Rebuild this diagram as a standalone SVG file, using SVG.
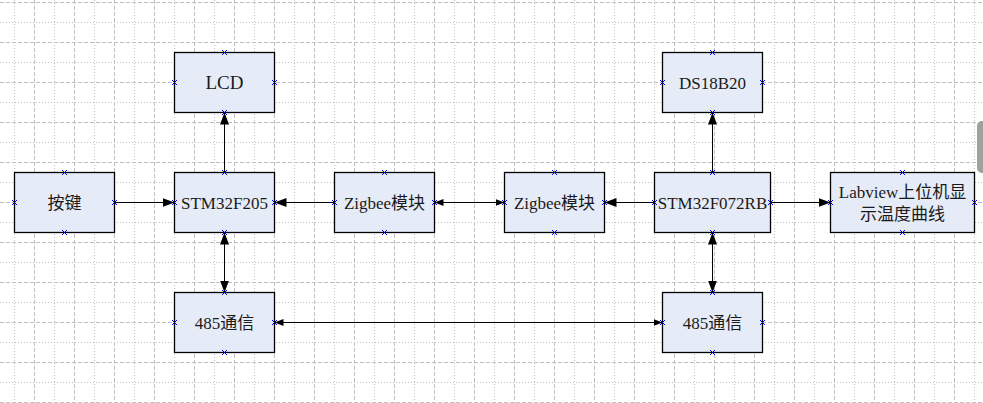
<svg xmlns="http://www.w3.org/2000/svg" xmlns:xlink="http://www.w3.org/1999/xlink" width="983" height="403" viewBox="0 0 983 403">
<style>
.gd{stroke:#c0c0c0;stroke-width:1;stroke-dasharray:4 2;fill:none}
.gt{stroke:#c0c0c0;stroke-width:1;stroke-dasharray:1 2;fill:none}
.box{fill:#e6ecf7;stroke:#000;stroke-width:1.3}
.t{font-family:"Liberation Serif",serif;font-size:17px;fill:#1a1a1a;text-anchor:middle}
.cj{font-family:"Noto Sans CJK SC",sans-serif}
.c{stroke:#000;stroke-width:1;fill:none}
.big{marker-end:url(#ab)}
.big2{marker-start:url(#ab);marker-end:url(#ab)}
.sm2{marker-start:url(#as);marker-end:url(#as)}
.xm{stroke:#0000ff;stroke-width:1;fill:none}
</style>
<defs>
<marker id="ab" markerUnits="userSpaceOnUse" markerWidth="13" markerHeight="10" refX="12" refY="4.5" orient="auto-start-reverse"><path d="M0,0 L12,4.5 L0,9 z" fill="#000"/></marker>
<marker id="as" markerUnits="userSpaceOnUse" markerWidth="10" markerHeight="8" refX="9" refY="3.5" orient="auto-start-reverse"><path d="M0,0 L9,3.5 L0,7 z" fill="#000"/></marker>
<path id="x" class="xm" d="M-2.5,-2.5 L2.5,2.5 M-2.5,2.5 L2.5,-2.5"/>
</defs>
<rect width="983" height="403" fill="#fff"/>
<g id="grid">
<path class="gt" d="M14.5,0V403 M54.5,0V403 M94.5,0V403 M134.5,0V403 M174.5,0V403 M214.5,0V403 M254.5,0V403 M294.5,0V403 M334.5,0V403 M374.5,0V403 M414.5,0V403 M454.5,0V403 M494.5,0V403 M534.5,0V403 M574.5,0V403 M614.5,0V403 M654.5,0V403 M694.5,0V403 M734.5,0V403 M774.5,0V403 M814.5,0V403 M854.5,0V403 M894.5,0V403 M934.5,0V403 M974.5,0V403"/>
<path class="gd" d="M34.5,0V403 M74.5,0V403 M114.5,0V403 M154.5,0V403 M194.5,0V403 M234.5,0V403 M274.5,0V403 M314.5,0V403 M354.5,0V403 M394.5,0V403 M434.5,0V403 M474.5,0V403 M514.5,0V403 M554.5,0V403 M594.5,0V403 M634.5,0V403 M674.5,0V403 M714.5,0V403 M754.5,0V403 M794.5,0V403 M834.5,0V403 M874.5,0V403 M914.5,0V403 M954.5,0V403"/>
<path class="gd" d="M0,2.5H983 M0,42.5H983 M0,82.5H983 M0,122.5H983 M0,162.5H983 M0,202.5H983 M0,242.5H983 M0,282.5H983 M0,322.5H983 M0,362.5H983 M0,402.5H983"/>
<path class="gt" d="M0,22.5H983 M0,62.5H983 M0,102.5H983 M0,142.5H983 M0,182.5H983 M0,222.5H983 M0,262.5H983 M0,302.5H983 M0,342.5H983 M0,382.5H983"/>
</g>
<rect x="977" y="121" width="12" height="52" rx="5" fill="#a0a0a0"/>
<g id="connectors">
<path class="c big" d="M114.5,202.5H174.5"/>
<path class="c big" d="M224.5,172.5V112.5"/>
<path class="c big2" d="M224.5,232.5V292.5"/>
<path class="c big" d="M334.5,202.5H274.5"/>
<path class="c sm2" d="M434.5,202.5H504.5"/>
<path class="c big" d="M654.5,202.5H604.5"/>
<path class="c big" d="M770.5,202.5H830.5"/>
<path class="c big" d="M712.5,172.5V112.5"/>
<path class="c big2" d="M712.5,232.5V292.5"/>
<path class="c sm2" d="M274.5,322.5H662.5"/>
</g>
<g id="lcd">
<rect class="box" x="174.5" y="52.5" width="100" height="60"/>
<text class="t" x="224.5" y="88.5" style="font-size:19px">LCD</text>
<use xlink:href="#x" x="224.5" y="52.5"/><use xlink:href="#x" x="174.5" y="82.5"/><use xlink:href="#x" x="274.5" y="82.5"/><use xlink:href="#x" x="224.5" y="112.5"/>
</g>
<g id="anjian">
<rect class="box" x="14.5" y="172.5" width="100" height="60"/>
<text class="t cj" x="64.5" y="208.5">按键</text>
<use xlink:href="#x" x="64.5" y="172.5"/><use xlink:href="#x" x="14.5" y="202.5"/><use xlink:href="#x" x="114.5" y="202.5"/><use xlink:href="#x" x="64.5" y="232.5"/>
</g>
<g id="stm32f205">
<rect class="box" x="174.5" y="172.5" width="100" height="60"/>
<text class="t" x="224.5" y="208.5">STM32F205</text>
<use xlink:href="#x" x="224.5" y="172.5"/><use xlink:href="#x" x="174.5" y="202.5"/><use xlink:href="#x" x="274.5" y="202.5"/><use xlink:href="#x" x="224.5" y="232.5"/>
</g>
<g id="zigbee1">
<rect class="box" x="334.5" y="172.5" width="100" height="60"/>
<text class="t" x="384.5" y="208.5">Zigbee<tspan class="cj">模块</tspan></text>
<use xlink:href="#x" x="384.5" y="172.5"/><use xlink:href="#x" x="334.5" y="202.5"/><use xlink:href="#x" x="434.5" y="202.5"/><use xlink:href="#x" x="384.5" y="232.5"/>
</g>
<g id="zigbee2">
<rect class="box" x="504.5" y="172.5" width="100" height="60"/>
<text class="t" x="554.5" y="208.5">Zigbee<tspan class="cj">模块</tspan></text>
<use xlink:href="#x" x="554.5" y="172.5"/><use xlink:href="#x" x="504.5" y="202.5"/><use xlink:href="#x" x="604.5" y="202.5"/><use xlink:href="#x" x="554.5" y="232.5"/>
</g>
<g id="stm32f072rb">
<rect class="box" x="654.5" y="172.5" width="116" height="60"/>
<text class="t" x="712.5" y="208.5">STM32F072RB</text>
<use xlink:href="#x" x="712.5" y="172.5"/><use xlink:href="#x" x="654.5" y="202.5"/><use xlink:href="#x" x="770.5" y="202.5"/><use xlink:href="#x" x="712.5" y="232.5"/>
</g>
<g id="labview">
<rect class="box" x="830.5" y="172.5" width="144" height="60"/>
<text class="t" x="902.5" y="197.5">Labview<tspan class="cj">上位机显</tspan></text>
<text class="t cj" x="902.5" y="219.5">示温度曲线</text>
<use xlink:href="#x" x="902.5" y="172.5"/><use xlink:href="#x" x="830.5" y="202.5"/><use xlink:href="#x" x="974.5" y="202.5"/><use xlink:href="#x" x="902.5" y="232.5"/>
</g>
<g id="ds18b20">
<rect class="box" x="662.5" y="52.5" width="100" height="60"/>
<text class="t" x="712.5" y="88.5">DS18B20</text>
<use xlink:href="#x" x="712.5" y="52.5"/><use xlink:href="#x" x="662.5" y="82.5"/><use xlink:href="#x" x="762.5" y="82.5"/><use xlink:href="#x" x="712.5" y="112.5"/>
</g>
<g id="rs485a">
<rect class="box" x="174.5" y="292.5" width="100" height="60"/>
<text class="t" x="224.5" y="328.5">485<tspan class="cj">通信</tspan></text>
<use xlink:href="#x" x="224.5" y="292.5"/><use xlink:href="#x" x="174.5" y="322.5"/><use xlink:href="#x" x="274.5" y="322.5"/><use xlink:href="#x" x="224.5" y="352.5"/>
</g>
<g id="rs485b">
<rect class="box" x="662.5" y="292.5" width="100" height="60"/>
<text class="t" x="712.5" y="328.5">485<tspan class="cj">通信</tspan></text>
<use xlink:href="#x" x="712.5" y="292.5"/><use xlink:href="#x" x="662.5" y="322.5"/><use xlink:href="#x" x="762.5" y="322.5"/><use xlink:href="#x" x="712.5" y="352.5"/>
</g>
</svg>
